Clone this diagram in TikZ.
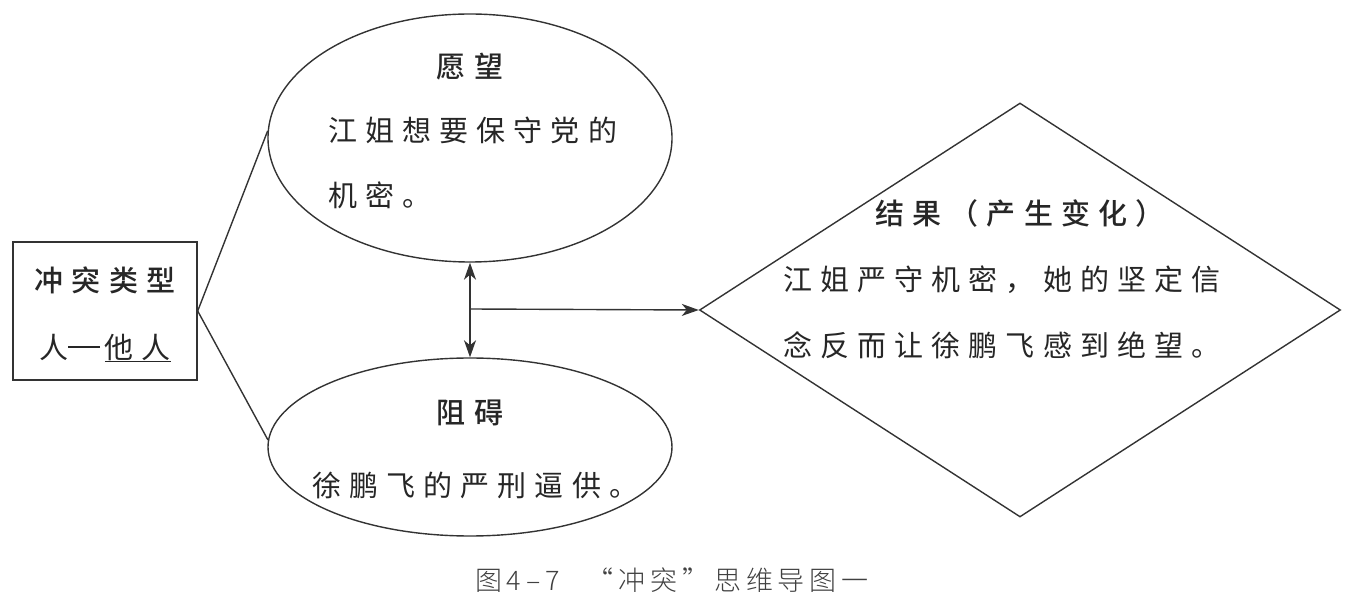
\documentclass[tikz,border=0pt]{standalone}
\usepackage{fontspec}
\newfontfamily\cjk[LetterSpace=28,BoldFont={Noto Sans CJK SC Medium}]{Noto Sans CJK SC}
\newfontfamily\capfont[LetterSpace=18]{Noto Sans CJK SC Light}
\usetikzlibrary{shapes.geometric,arrows.meta}
\begin{document}
\begin{tikzpicture}[x=1pt,y=1pt,
  line/.style={draw=black!80, line width=1.4pt},
  tip/.tip={Stealth[length=17pt,width=12pt,inset=5pt]},
  arr/.style={line, -tip},
  txt/.style={inner sep=0pt, font=\cjk\fontsize{29}{34}\selectfont, text=black!85},
  ttl/.style={txt, font=\cjk\bfseries\fontsize{29}{34}\selectfont}]
\useasboundingbox (0,0) rectangle (1345,611);
% shapes
\node[line, draw, minimum width=184pt, minimum height=138pt, inner sep=0pt] (box) at (105,300) {};
\node[line, draw, ellipse, minimum width=404pt, minimum height=248pt, inner sep=0pt] (top) at (470,473) {};
\node[line, draw, ellipse, minimum width=404pt, minimum height=178pt, inner sep=0pt] (bot) at (470,164) {};
\node[line, draw, diamond, minimum width=641pt, minimum height=414pt, inner sep=0pt] (dia) at (1020,301) {};
% connectors
\draw[line] (box.east) -- (top.178);
\draw[line] (box.east) -- (bot.178);
\coordinate (j) at (470,302);
\draw[line, tip-tip] (top.south) -- (bot.north);
\draw[arr] (j) -- (dia.west);
% texts
\node[ttl] (t1) at (105,331) {冲突类型};
\node[txt] (t2) at (105,263) {人\rule[0.36em]{1.1em}{1.5pt}\,\underline{他人}};
\node[ttl] (a1) at (470,544) {愿望};
\node[txt, anchor=west] (a2) at (328,481) {江姐想要保守党的};
\node[txt, anchor=west] (a3) at (328,416) {机密。};
\node[ttl] (b1) at (470,198) {阻碍};
\node[txt, anchor=west] (b2) at (312,126) {徐鹏飞的严刑逼供。};
\node[ttl] (c1) at (1020,398) {结果（产生变化）};
\node[txt, anchor=west] (c2) at (783,331) {江姐严守机密，她的坚定信};
\node[txt, anchor=west] (c3) at (783,266) {念反而让徐鹏飞感到绝望。};
\node[inner sep=0pt, font=\capfont\fontsize{27}{32}\selectfont, text=black!75] (cap) at (672,31) {图\,4–7\quad“冲突”思维导图一};
\end{tikzpicture}
\end{document}
